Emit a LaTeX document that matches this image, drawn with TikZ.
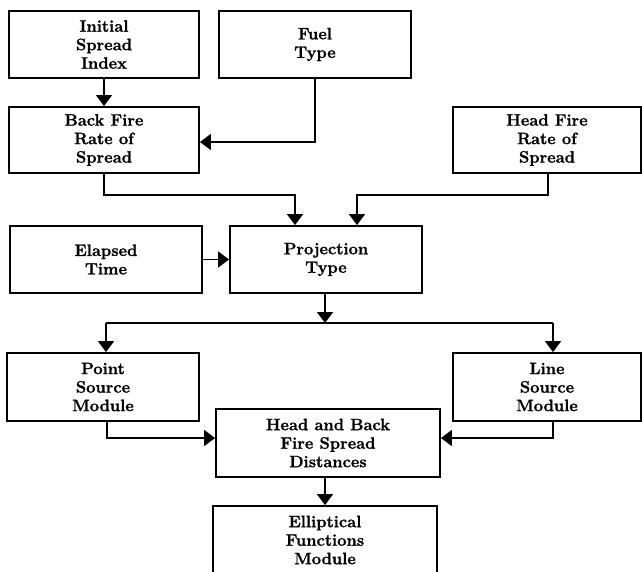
\documentclass[tikz,border=0pt]{standalone}
\usepackage{fontspec}
\newfontfamily\boxfont[FakeBold=1.2]{Latin Modern Roman}
\usetikzlibrary{arrows.meta}
\begin{document}
\begin{tikzpicture}[x=1pt,y=-1pt,
  box/.style={draw, line width=1.8pt, rectangle, inner sep=0pt, align=center,
    font=\fontsize{16.5}{18.5}\selectfont\boxfont\bfseries},
  conn/.style={line width=1.7pt, -{Triangle[width=16pt,length=11pt]}},
  plain/.style={line width=1.7pt}]
\useasboundingbox (0,0) rectangle (642,571);
\node[box, minimum width=190, minimum height=67] (isi) at (104,44.5) {Initial\\Spread\\Index};
\node[box, minimum width=192, minimum height=67] (fuel) at (315,44.5) {Fuel\\Type};
\node[box, minimum width=190, minimum height=66] (bfrs) at (104,140) {Back Fire\\Rate of\\Spread};
\node[box, minimum width=188, minimum height=66] (hfrs) at (547,140) {Head Fire\\Rate of\\Spread};
\node[box, minimum width=192, minimum height=67] (et) at (106,259.5) {Elapsed\\Time};
\node[box, minimum width=192, minimum height=67] (pt) at (326,259.5) {Projection\\Type};
\node[box, minimum width=192, minimum height=68] (psm) at (103,387) {Point\\Source\\Module};
\node[box, minimum width=188, minimum height=68] (lsm) at (547,387) {Line\\Source\\Module};
\node[box, minimum width=224, minimum height=68] (hbf) at (328,443) {Head and Back\\Fire Spread\\Distances};
\node[box, minimum width=224, minimum height=68] (efm) at (325,540) {Elliptical\\Functions\\Module};

\coordinate (split) at (325,323);
\coordinate (splitL) at (106,323);
\coordinate (splitR) at (553,323);

\draw[conn] (isi) -- (bfrs);
\draw[conn] (fuel.south) |- ([yshift=-2]bfrs.east);
\draw[conn] (bfrs.south) -- ++(0,21) -| ([xshift=-31]pt.north);
\draw[conn] ([xshift=1]hfrs.south) -- ++(0,21) -| ([xshift=31]pt.north);
\draw[conn] (et) -- (pt);
\draw[conn] (pt.south -| split) -- (split);
\draw[plain] (splitL) -- (splitR);
\draw[conn] (splitL) -- (splitL |- psm.north);
\draw[conn] (splitR) -- (splitR |- lsm.north);
\draw[conn] ([xshift=4]psm.south) |- ([yshift=5]hbf.west);
\draw[conn] ([xshift=6]lsm.south) |- ([yshift=5]hbf.east);
\draw[conn] (hbf.south -| efm.north) -- (efm.north);
\end{tikzpicture}
\end{document}
